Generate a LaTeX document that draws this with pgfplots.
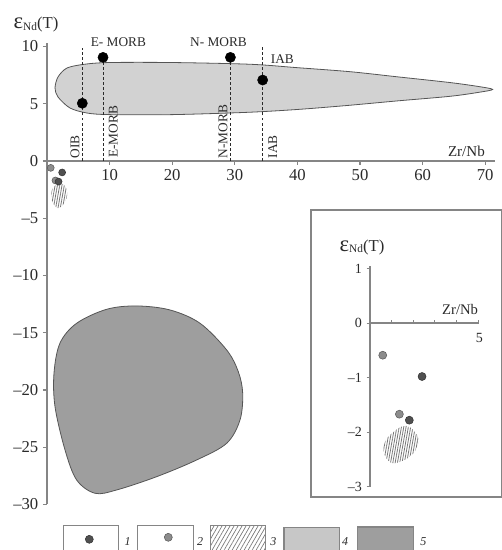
\documentclass[border=0pt]{standalone}
\usepackage{fontspec}
\setmainfont{Liberation Serif}
\usepackage{pgfplots}
\pgfplotsset{compat=1.18}
\usetikzlibrary{patterns.meta}

\definecolor{axgray}{HTML}{858585}
\definecolor{txt}{HTML}{2A2A2A}
\definecolor{fillA}{HTML}{D2D2D2}
\definecolor{fillB}{HTML}{9E9E9E}
\definecolor{edgeA}{HTML}{555555}
\definecolor{dotdark}{HTML}{505050}
\definecolor{dotgray}{HTML}{8C8C8C}
\definecolor{hatch}{HTML}{767676}

\newcommand{\epsnd}{{\fontsize{17}{17}\selectfont ε}\raisebox{-0.3ex}{\fontsize{8.5}{8.5}\selectfont Nd}{\fontsize{12.5}{12.5}\selectfont (T)}}

\pgfplotsset{
  noarrows/.style={
    every inner x axis line/.append style={-},
    every outer x axis line/.append style={-},
    every inner y axis line/.append style={-},
    every outer y axis line/.append style={-},
  }
}

\begin{document}
\begin{tikzpicture}[x=0.75pt,y=0.75pt]
\useasboundingbox (0,0) rectangle (501,550);

% ---------------- main axis ----------------
\begin{axis}[
  at={(35.25pt,34.125pt)}, anchor=south west,
  x=4.695pt, y=8.5875pt,
  xmin=0, xmax=71.5, ymin=-30, ymax=10.3,
  axis x line=middle, axis y line=left,
  noarrows,
  axis line style={axgray, line width=0.9pt},
  xtick={10,20,...,70}, ytick={-30,-25,...,10},
  yticklabels={–30,–25,–20,–15,–10,–5,0,5,10},
  minor tick num=0,
  tick style={axgray, line width=0.8pt},
  major tick length=3pt,
  xtick align=outside, ytick align=outside,
  tick label style={font=\fontsize{12.5}{12.5}\selectfont, text=txt},
  /pgf/number format/assume math mode=true,
  clip=false,
]
% field 4
\addplot[fill=fillA, draw=edgeA, line width=0.6pt, smooth cycle, tension=0.5] coordinates {
 (1.28,6.38) (1.76,7.34) (3.19,8.12) (6,8.45) (10,8.6) (20,8.6) (32.4,8.45) (40,8.15)
 (48.4,7.8) (56,7.35) (64.4,6.85) (69,6.5) (71.2,6.25) (69,6.0) (64.4,5.65) (56,5.25)
 (48,4.85) (40,4.5) (32,4.25) (20,4.05) (10,4.05) (6.39,4.19) (3.67,4.63) (1.76,5.59)};
% field 5
\addplot[fill=fillB, draw=edgeA, line width=0.6pt, smooth cycle, tension=0.55] coordinates {
 (9.54,-12.95) (14.33,-12.66) (19.65,-13.01) (24.44,-14.17) (28.71,-16.51) (30.56,-18.40)
 (31.26,-20.29) (30.83,-22.62) (28.71,-24.65) (23.91,-26.11) (17.52,-27.57) (11.13,-28.73)
 (7.67,-29.02) (4.74,-27.86) (2.88,-25.24) (1.28,-21.46) (1.12,-18.52) (2.08,-15.90) (4.74,-14.17)};
% dashed reference lines
\addplot[txt, line width=0.6pt, dash pattern=on 2.2pt off 1.6pt] coordinates {(5.64,0) (5.64,9.9)};
\addplot[txt, line width=0.6pt, dash pattern=on 2.2pt off 1.6pt] coordinates {(8.95,0) (8.95,9.05)};
\addplot[txt, line width=0.6pt, dash pattern=on 2.2pt off 1.6pt] coordinates {(29.3,0) (29.3,9.05)};
\addplot[txt, line width=0.6pt, dash pattern=on 2.2pt off 1.6pt] coordinates {(34.45,0) (34.45,10)};
% reference points
\addplot[only marks, mark=*, mark size=3.8pt, black] coordinates {(5.64,5.04) (8.95,9.05) (29.3,9.05) (34.45,7.07)};
% field 3 (hatched) and samples
\addplot[pattern={Lines[angle=80, distance=1.7pt, line width=0.6pt]}, pattern color=hatch, draw=none, smooth cycle, tension=0.6] coordinates {
 (2.19,-1.95) (3.15,-2.38) (3.04,-3.41) (1.81,-4.13) (0.75,-3.41) (0.91,-2.38)};
\addplot[only marks, mark=*, mark size=2.6pt, draw=gray!70!black, fill=dotgray] coordinates {(0.6,-0.6) (1.35,-1.7)};
\addplot[only marks, mark=*, mark size=2.6pt, draw=black!80, fill=dotdark] coordinates {(2.42,-1.0) (1.85,-1.8)};
% labels
\node[text=txt, font=\fontsize{10}{10}\selectfont] at (axis cs:11.4,10.37) {E- MORB};
\node[text=txt, font=\fontsize{10}{10}\selectfont] at (axis cs:27.4,10.37) {N- MORB};
\node[text=txt, font=\fontsize{10}{10}\selectfont] at (axis cs:37.6,8.9) {IAB};
\node[text=txt, font=\fontsize{10}{10}\selectfont, rotate=90] at (axis cs:4.47,1.25) {OIB};
\node[text=txt, font=\fontsize{10}{10}\selectfont, rotate=90] at (axis cs:10.6,2.56) {E-MORB};
\node[text=txt, font=\fontsize{10}{10}\selectfont, rotate=90] at (axis cs:28.1,2.56) {N-MORB};
\node[text=txt, font=\fontsize{10}{10}\selectfont, rotate=90] at (axis cs:36.05,1.25) {IAB};
\node[text=txt, font=\fontsize{11.3}{11.3}\selectfont] at (axis cs:67.0,0.85) {Zr/Nb};
\node[text=txt] at (axis cs:-1.76,11.88) {\epsnd};
\end{axis}

% ---------------- inset ----------------
\draw[axgray, line width=1.1pt] (311,53) rectangle (501.5,340);
\begin{axis}[
  at={(277.5pt,47.4pt)}, anchor=south west,
  x=16.2pt, y=40.95pt,
  xmin=0, xmax=5.05, ymin=-3, ymax=1.05,
  axis x line=middle, axis y line=left,
  noarrows,
  axis line style={axgray, line width=0.8pt},
  xtick={1,2,3,4,5}, xticklabels={,,,,},
  ytick={-3,-2,-1,0,1},
  yticklabels={–3,–2,–1,0,1},
  tick style={axgray, line width=0.7pt},
  major tick length=2.5pt,
  xtick align=inside, ytick align=outside,
  tick label style={font=\fontsize{10.5}{10.5}\selectfont, text=txt},
  /pgf/number format/assume math mode=true,
  clip=false,
]
\addplot[pattern={Lines[angle=80, distance=1.7pt, line width=0.6pt]}, pattern color=hatch, draw=none, smooth cycle, tension=0.6] coordinates {
 (1.85,-1.91) (2.28,-2.13) (1.93,-2.42) (1.08,-2.57) (0.65,-2.39) (0.74,-2.14) (1.24,-1.95) (1.54,-1.89)};
\addplot[only marks, mark=*, mark size=3pt, draw=gray!70!black, fill=dotgray] coordinates {(0.59,-0.59) (1.36,-1.67)};
\addplot[only marks, mark=*, mark size=3pt, draw=black!80, fill=dotdark] coordinates {(2.41,-0.98) (1.82,-1.78)};
\node[text=txt, font=\fontsize{11}{11}\selectfont] at (axis cs:4.17,0.24) {Zr/Nb};
\node[text=txt, font=\fontsize{10.5}{10.5}\selectfont] at (axis cs:5.06,-0.28) {5};
\node[text=txt] at (axis cs:-0.37,1.39) {\epsnd};
\end{axis}

% ---------------- legend ----------------
\begin{axis}[
  at={(0pt,0pt)}, anchor=south west,
  x=0.75pt, y=0.75pt,
  xmin=0, xmax=501, ymin=0, ymax=550,
  hide axis, clip=false,
]
\draw[axgray, line width=0.8pt, fill=white] (63.3,24.3) rectangle (118.3,-4);
\draw[axgray, line width=0.8pt, fill=white] (137.3,24.3) rectangle (193.3,-4);
\draw[axgray, line width=0.8pt, pattern={Lines[angle=60, distance=2.6pt, line width=0.5pt]}, pattern color=hatch] (210.7,24.3) rectangle (265.7,-4);
\draw[axgray, line width=0.8pt, fill=fillA!95!black] (284,22.7) rectangle (339.3,-4);
\draw[axgray, line width=0.8pt, fill=fillB] (357.7,23) rectangle (413.3,-4);
\addplot[only marks, mark=*, mark size=3pt, draw=black!80, fill=dotdark] coordinates {(89.3,10.7)};
\addplot[only marks, mark=*, mark size=3pt, draw=gray!70!black, fill=dotgray] coordinates {(168.3,12.7)};
\node[text=txt, font=\itshape\fontsize{9}{9}\selectfont] at (127.7,8) {1};
\node[text=txt, font=\itshape\fontsize{9}{9}\selectfont] at (200,8) {2};
\node[text=txt, font=\itshape\fontsize{9}{9}\selectfont] at (273.3,8) {3};
\node[text=txt, font=\itshape\fontsize{9}{9}\selectfont] at (345,8) {4};
\node[text=txt, font=\itshape\fontsize{9}{9}\selectfont] at (423.3,8) {5};
\end{axis}
\end{tikzpicture}
\end{document}
